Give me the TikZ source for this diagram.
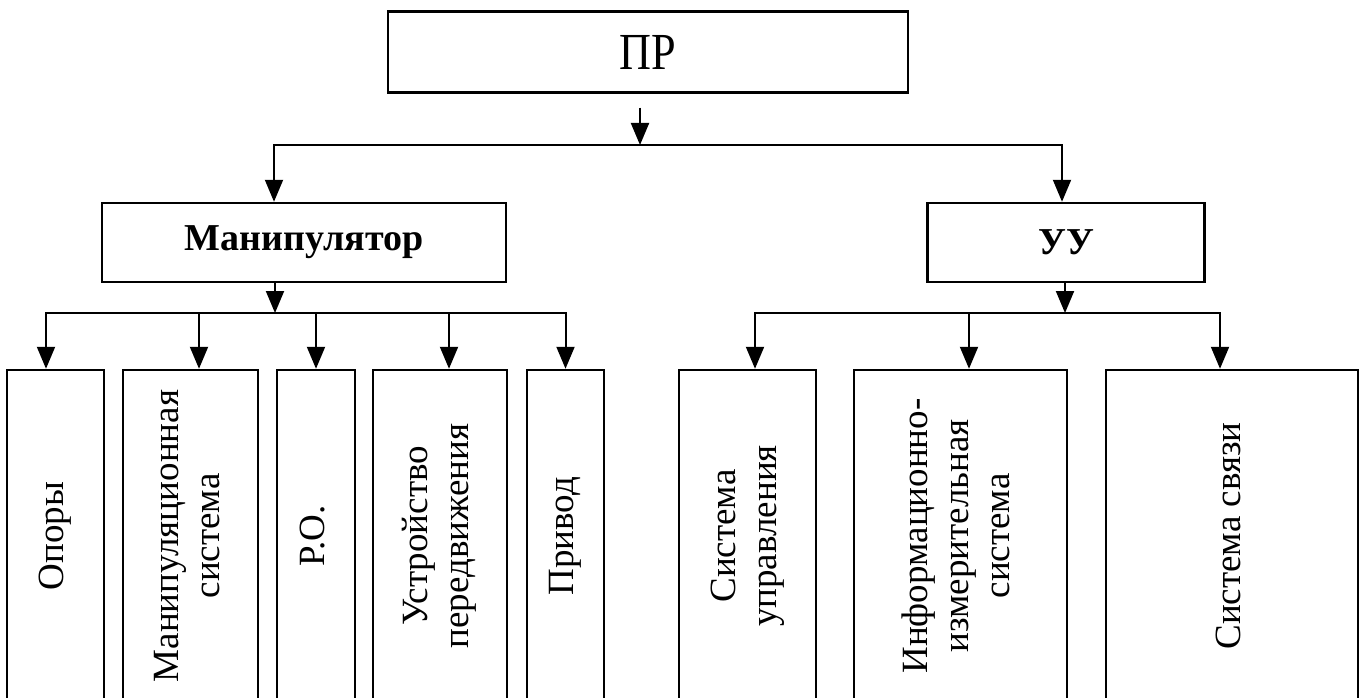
\documentclass[tikz,border=0pt]{standalone}
\usepackage{fontspec}
\setmainfont{Liberation Serif}
\newfontfamily\narrowfont[FakeStretch=0.85]{Liberation Serif}
\usetikzlibrary{arrows.meta}

\tikzset{
  box/.style={draw, line width=2.5pt, inner sep=0pt},
  leaf/.style={box, minimum height=332pt, font=\fontsize{37}{41}\selectfont},
  head/.style={box, minimum height=79pt, font=\bfseries\fontsize{38}{42}\selectfont},
  arr/.style={line width=2pt, -{Triangle[length=22pt,width=18pt]}},
}
\newcommand{\vlabel}[1]{\rotatebox{90}{\begin{tabular}{@{}c@{}}#1\end{tabular}}}

\begin{document}
\begin{tikzpicture}[x=1pt,y=-1pt]
\useasboundingbox (0,0) rectangle (1362,698);
\clip (0,0) rectangle (1362,698);

% top
\node[box, minimum width=520pt, minimum height=81pt, font=\narrowfont\fontsize{52}{56}\selectfont] (pr) at (648,52) {ПР};

% second level
\node[head, minimum width=404pt] (man) at (304,242.5) {Манипулятор};
\node[head, minimum width=277pt] (uu) at (1066,242.5) {УУ};

% leaves
\node[leaf, minimum width=97pt]  (o1) at (55.5,536)  {\vlabel{Опоры}};
\node[leaf, minimum width=135pt] (o2) at (190.5,536) {\vlabel{Манипуляционная\\система}};
\node[leaf, minimum width=78pt]  (o3) at (316,536)   {\vlabel{Р.О.}};
\node[leaf, minimum width=134pt] (o4) at (440,536)   {\vlabel{Устройство\\передвижения}};
\node[leaf, minimum width=77pt]  (o5) at (565.5,536) {\vlabel{Привод}};
\node[leaf, minimum width=137pt] (o6) at (747.5,536) {\vlabel{Система\\управления}};
\node[leaf, minimum width=213pt] (o7) at (960.5,536) {\vlabel{Информационно-\\измерительная\\система}};
\node[leaf, minimum width=252pt] (o8) at (1232,536)  {\vlabel{Система связи}};

% connectors
\coordinate (top) at (640,145);
\draw[arr] ([yshift=-14pt]pr.south -| top) -- (top);
\draw[arr] (top) -| ([xshift=-30pt]man.north);
\draw[arr] (top) -| ([xshift=-4pt]uu.north);

\coordinate (mb) at (275,313);
\coordinate (ub) at (1065,313);
\draw[arr] (man.south -| mb) -- (mb);
\draw[arr] (uu.south -| ub) -- (ub);
\foreach \n/\dx in {o1/-9.5, o2/8.5, o3/0, o4/9, o5/0}
  \draw[arr] (mb) -| ([xshift=\dx pt]\n.north);
\foreach \n/\dx in {o6/7.5, o7/8.5, o8/-12}
  \draw[arr] (ub) -| ([xshift=\dx pt]\n.north);
\end{tikzpicture}
\end{document}
